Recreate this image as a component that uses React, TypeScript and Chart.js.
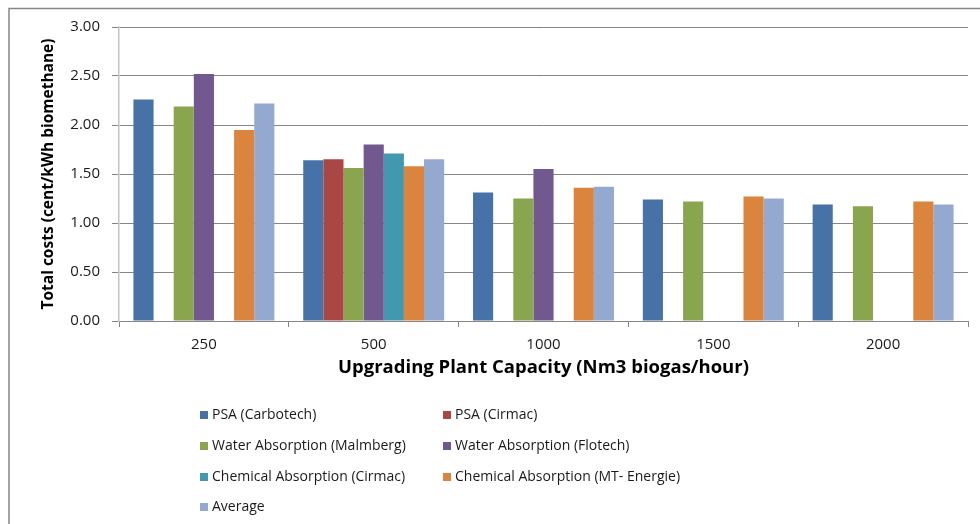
import React, { useEffect, useRef } from "react";
import { Chart, registerables } from "chart.js";

Chart.register(...registerables);

// Plant capacities (Nm3 biogas/hour)
const capacities = ["250", "500", "1000", "1500", "2000"];

// Total upgrading costs, cent/kWh biomethane (null = no quote for that size)
const psaCarbotech = [2.26, 1.64, 1.31, 1.24, 1.19];
const psaCirmac = [null, 1.65, null, null, null];
const waterMalmberg = [2.19, 1.56, 1.25, 1.22, 1.17];
const waterFlotech = [2.52, 1.80, 1.55, null, null];
const chemCirmac = [null, 1.71, null, null, null];
const chemMtEnergie = [1.95, 1.58, 1.36, 1.27, 1.22];
const average = [2.22, 1.65, 1.37, 1.25, 1.19];

const seriesNames = [
  "PSA (Carbotech)",
  "PSA (Cirmac)",
  "Water Absorption (Malmberg)",
  "Water Absorption (Flotech)",
  "Chemical Absorption (Cirmac)",
  "Chemical Absorption (MT- Energie)",
  "Average",
];
const seriesValues = [
  psaCarbotech,
  psaCirmac,
  waterMalmberg,
  waterFlotech,
  chemCirmac,
  chemMtEnergie,
  average,
];
const seriesColors = [
  "#4672A8",
  "#AA4643",
  "#89A54E",
  "#71588F",
  "#4198AF",
  "#DB843D",
  "#93A9CF",
];

const yTicks = [0, 0.5, 1, 1.5, 2, 2.5, 3];

const FONT = "'Open Sans', 'Liberation Sans', sans-serif";
const TEXT = "#1a1a1a";
const GRID = "#868686";

// Two-column legend under the plot, plus the outer frame lines
const legendAndFrame = {
  id: "legendAndFrame",
  afterDraw(chart: any) {
    const { ctx } = chart;
    ctx.save();
    // frame
    ctx.strokeStyle = GRID;
    ctx.lineWidth = 1.5;
    ctx.beginPath();
    ctx.moveTo(980, 8.5);
    ctx.lineTo(9, 8.5);
    ctx.lineTo(9, 524);
    ctx.stroke();

    // legend
    const colX = [200, 443];
    const rowY = [415, 446, 477, 507];
    ctx.font = `14px ${FONT}`;
    ctx.textBaseline = "middle";
    ctx.textAlign = "left";
    chart.data.datasets.forEach((ds: any, i: number) => {
      const x = colX[i % 2];
      const y = rowY[Math.floor(i / 2)];
      ctx.fillStyle = ds.backgroundColor;
      ctx.fillRect(x, y - 4, 8, 8);
      ctx.fillStyle = TEXT;
      ctx.fillText(ds.label, x + 12, y + 0.5);
    });
    ctx.restore();
  },
};

export default function App() {
  const canvasRef = useRef<HTMLCanvasElement | null>(null);

  useEffect(() => {
    const canvas = canvasRef.current;
    if (!canvas) return;
    const chart = new Chart(canvas, {
      type: "bar",
      data: {
        labels: capacities,
        datasets: seriesNames.map((name, i) => ({
          label: name,
          data: seriesValues[i],
          backgroundColor: seriesColors[i],
          borderWidth: 0,
          categoryPercentage: 0.83,
          barPercentage: 1,
        })),
      },
      options: {
        responsive: false,
        animation: false,
        layout: { padding: { left: 39, top: 27, right: 12, bottom: 145 } },
        plugins: {
          legend: { display: false },
          tooltip: { enabled: false },
        },
        scales: {
          x: {
            afterFit: (scale: any) => {
              scale.height = 58;
            },
            grid: {
              drawOnChartArea: false,
              drawTicks: true,
              tickLength: 6,
              color: GRID,
              lineWidth: 1,
            },
            border: { color: GRID, width: 1 },
            ticks: {
              color: TEXT,
              font: { family: FONT, size: 15 },
              padding: 9,
            },
            title: {
              display: true,
              text: "Upgrading Plant Capacity (Nm3 biogas/hour)",
              color: "#000",
              font: { family: FONT, size: 18.5, weight: "bold" },
              padding: { top: 0, bottom: 0 },
            },
          },
          y: {
            min: 0,
            max: 3,
            afterFit: (scale: any) => {
              scale.width = 80;
            },
            afterBuildTicks: (scale: any) => {
              scale.ticks = yTicks.map((v) => ({ value: v }));
            },
            grid: {
              color: GRID,
              lineWidth: 1,
              drawTicks: true,
              tickLength: 7,
            },
            border: { color: "#C4C4C4", width: 1.5 },
            ticks: {
              color: TEXT,
              font: { family: FONT, size: 15 },
              padding: 12,
              callback: (v: any) => Number(v).toFixed(2),
            },
            title: {
              display: true,
              text: "Total costs (cent/kWh biomethane)",
              color: "#000",
              font: { family: FONT, size: 15.5, weight: "bold" },
              padding: { top: 0, bottom: 0 },
            },
          },
        },
      },
      plugins: [legendAndFrame],
    });
    return () => chart.destroy();
  }, []);

  return (
    <div style={{ position: "absolute", left: 0, top: 0, width: 980, height: 524, background: "#fff" }}>
      <canvas ref={canvasRef} width={980} height={524} style={{ display: "block" }} />
    </div>
  );
}
